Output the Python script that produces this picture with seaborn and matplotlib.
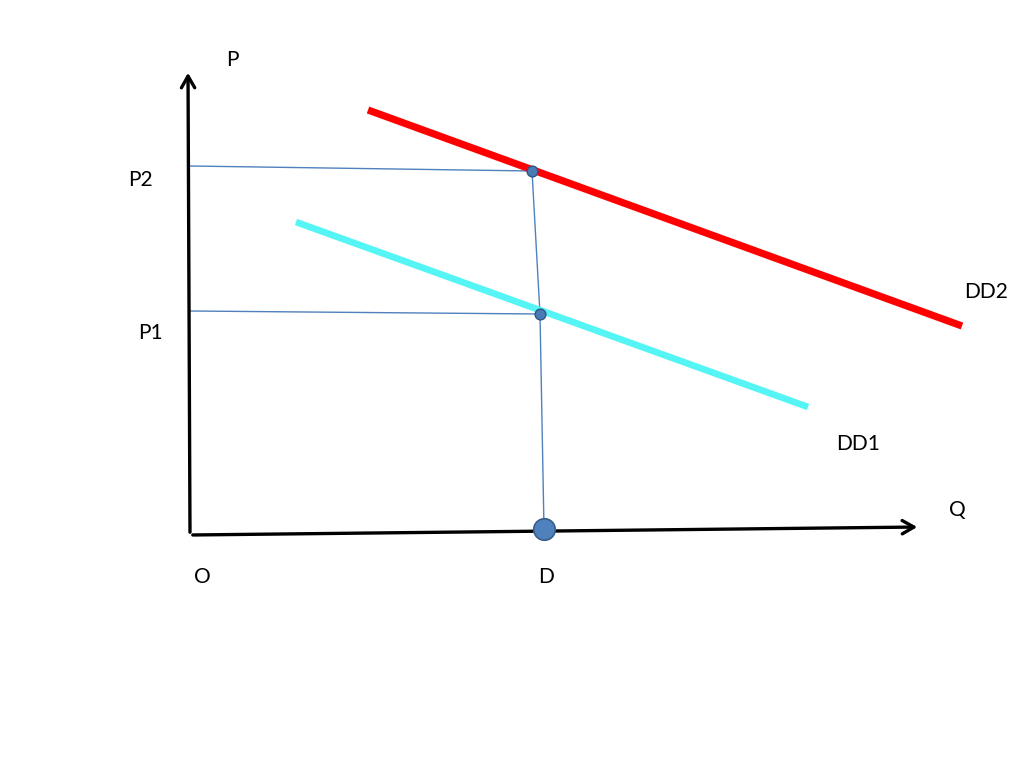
import matplotlib
matplotlib.use("Agg")
import matplotlib.pyplot as plt
import seaborn as sns
import pandas as pd

# Demand curves (Q, P) in diagram units, origin at O
dd2_q = [178, 772]
dd2_p = [425, 209]
dd1_q = [106, 618]
dd1_p = [313, 128]

# equilibrium points
pt_q = [342, 350]
pt_p = [364, 221]
d_q = [354]
d_p = [6]

# guide lines
p2_guide_q = [0, 342]
p2_guide_p = [369, 364]
p1_guide_q = [0, 350]
p1_guide_p = [224, 221]
vert_q = [342, 350, 354]
vert_p = [364, 221, 6]

# axes ends
xaxis_end = (730, 8)
yaxis_end = (-2, 465)

labels = ["P", "P2", "P1", "DD2", "DD1", "Q", "O", "D"]
label_q = [42, -50, -40, 796, 668, 767, 12, 356]
label_p = [475, 355, 202, 243, 91, 25, -42, -42]

sns.set_theme(style="white")
plt.rcParams['font.family'] = ['Lato', 'DejaVu Sans']

fig = plt.figure(figsize=(10.24, 7.67), dpi=100)
ax = fig.add_axes([0, 0, 1, 1])
ax.set_xlim(-190, 834)
ax.set_ylim(-232, 535)
ax.axis("off")

guide_col = "#4f81bd"
for qq, pp in [(p2_guide_q, p2_guide_p), (p1_guide_q, p1_guide_p), (vert_q, vert_p)]:
    sns.lineplot(x=qq, y=pp, ax=ax, color=guide_col, lw=1.0, sort=False)

sns.lineplot(x=dd2_q, y=dd2_p, ax=ax, color="#ff0000", lw=5.2, sort=False, solid_capstyle="butt")
sns.lineplot(x=dd1_q, y=dd1_p, ax=ax, color="#55f5f5", lw=4.8, sort=False, solid_capstyle="butt")

ax.annotate("", xy=xaxis_end, xytext=(0, 0),
            arrowprops=dict(arrowstyle="->,head_length=0.7,head_width=0.4", lw=2.4, color="black"))
ax.annotate("", xy=yaxis_end, xytext=(0, 0),
            arrowprops=dict(arrowstyle="->,head_length=0.7,head_width=0.4", lw=2.4, color="black"))

sns.scatterplot(x=pt_q, y=pt_p, ax=ax, s=60, color="#4a7ab5", edgecolor="#2f5583", linewidth=1, zorder=5)
sns.scatterplot(x=d_q, y=d_p, ax=ax, s=240, color=guide_col, edgecolor="#385d8a", linewidth=1.2, zorder=5)

for t, q, p in zip(labels, label_q, label_p):
    ax.text(q, p, t, fontsize=15, ha="center", va="center", color="black")

fig.savefig("out.png", dpi=100)
